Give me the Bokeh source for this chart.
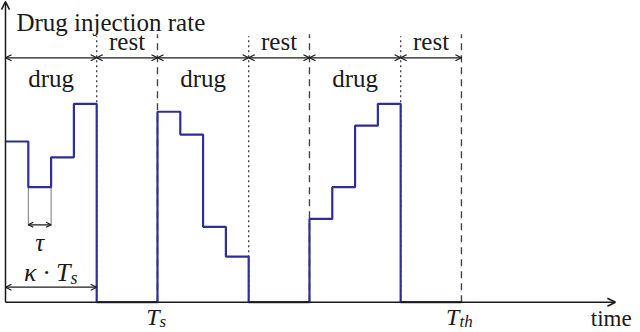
import numpy as np
from bokeh.plotting import figure
from bokeh.models import Range1d, Arrow, OpenHead, ColumnDataSource
from bokeh.core.properties import value
from bokeh.embed import file_html
from bokeh.resources import INLINE

# ---- schedule structure (in units of T_s) ----
Ts = 1.0
kappa = 0.6
tau = 0.15
cycle_starts = [0.0, 1.0, 2.0]
T_th = 3.0

# ---- injection-rate levels (relative) ----
cycle1 = [0.81, 0.58, 0.73, 1.00]
cycle2 = [0.96, 0.845, 0.38, 0.23]
cycle3 = [0.42, 0.58, 0.89, 1.00]

phase_labels = ["drug", "rest"]
tick_positions = [1.0, 3.0]
tick_main = ["T", "T"]
tick_sub = ["s", "th"]
tick_sub_shift = [2, -2]

FONT = value("Liberation Serif")
BLUE = "#2E2E96"
INK = "#1a1a1a"

p = figure(width=640, height=332,
           x_range=Range1d(-0.0329, 4.178), y_range=Range1d(-0.1527, 1.5207),
           output_backend="svg", toolbar_location=None,
           x_axis_type=None, y_axis_type=None,
           min_border=0, min_border_left=0, min_border_right=0,
           min_border_top=0, min_border_bottom=0)
p.grid.visible = False
p.outline_line_color = None
p.background_fill_color = "white"

# ---- vertical phase boundaries ----
drug_end = [s + kappa for s in cycle_starts]
cycle_end = [s + Ts for s in cycle_starts]
p.segment(x0=drug_end, y0=[0] * 3, x1=drug_end, y1=[1.34] * 3,
          line_color="#444444", line_width=1.4, line_dash="2 3")
p.segment(x0=cycle_end, y0=[0] * 3, x1=cycle_end, y1=[1.35] * 3,
          line_color="#444444", line_width=1.4, line_dash="7 5")

# ---- tau annotation (thin guides) ----
p.segment(x0=[tau, 2 * tau], y0=[cycle1[1]] * 2, x1=[tau, 2 * tau], y1=[0.385] * 2,
          line_color="#777777", line_width=1)

# ---- injection rate step curve ----
xs, ys = [], []
for start, vals in zip(cycle_starts, [cycle1, cycle2, cycle3]):
    for i, v in enumerate(vals):
        xs += [start + i * tau, start + (i + 1) * tau]
        ys += [v, v]
    xs += [start + kappa, start + Ts]
    ys += [0, 0]
p.line(xs, ys, line_color=BLUE, line_width=2.2)

# ---- axes drawn as arrows ----
p.add_layout(Arrow(x_start=0, y_start=0, x_end=4.013, y_end=0,
                   line_color=INK, line_width=1.5,
                   end=OpenHead(size=8, line_color=INK, line_width=1.5)))
p.add_layout(Arrow(x_start=0, y_start=0, x_end=0, y_end=1.515,
                   line_color=INK, line_width=1.5,
                   end=OpenHead(size=8, line_color=INK, line_width=1.5)))

# ---- dimension arrows for drug / rest phases ----
dim = ColumnDataSource(dict(
    x0=cycle_starts + drug_end,
    x1=drug_end + cycle_end,
    y=[1.232] * 6))
p.add_layout(Arrow(x_start="x0", y_start="y", x_end="x1", y_end="y", source=dim,
                   line_color=INK, line_width=1.3,
                   start=OpenHead(size=6, line_color=INK, line_width=1.3),
                   end=OpenHead(size=6, line_color=INK, line_width=1.3)))

# tau and kappa*Ts arrows
p.add_layout(Arrow(x_start=tau, y_start=0.39, x_end=2 * tau, y_end=0.39,
                   line_color=INK, line_width=1.2,
                   start=OpenHead(size=5, line_color=INK, line_width=1.2),
                   end=OpenHead(size=5, line_color=INK, line_width=1.2)))
p.add_layout(Arrow(x_start=0, y_start=0.0756, x_end=kappa, y_end=0.0756,
                   line_color=INK, line_width=1.2,
                   start=OpenHead(size=6, line_color=INK, line_width=1.2),
                   end=OpenHead(size=6, line_color=INK, line_width=1.2)))

# ---- phase labels ----
p.text(x=[s + kappa / 2 for s in cycle_starts], y=[1.13] * 3, text=[phase_labels[0]] * 3,
       text_font=FONT, text_font_size="25px", text_color=INK,
       text_align="center", text_baseline="middle")
p.text(x=[s + (kappa + Ts) / 2 for s in cycle_starts], y=[1.315] * 3, text=[phase_labels[1]] * 3,
       text_font=FONT, text_font_size="25px", text_color=INK,
       text_align="center", text_baseline="middle")

# ---- title & axis label ----
p.text(x=[0.072], y=[1.412], text=["Drug injection rate"],
       text_font=FONT, text_font_size="25px", text_color=INK,
       text_align="left", text_baseline="alphabetic")
p.text(x=[4.12], y=[-0.083], text=["time"],
       text_font=FONT, text_font_size="23px", text_color=INK,
       text_align="right", text_baseline="alphabetic")

# ---- tick labels T_s, T_th ----
p.text(x=tick_positions, y=[-0.074] * 2, text=tick_main, x_offset=tick_sub_shift,
       text_font=FONT, text_font_size="24px", text_font_style="italic", text_color=INK,
       text_align="right", text_baseline="middle")
p.text(x=tick_positions, y=[-0.074] * 2, text=tick_sub, x_offset=tick_sub_shift, y_offset=[5, 5],
       text_font=FONT, text_font_size="17px", text_font_style="italic", text_color=INK,
       text_align="left", text_baseline="middle")

# ---- tau and kappa*Ts labels ----
p.text(x=[1.5 * tau], y=[0.30], text=["τ"],
       text_font=FONT, text_font_size="25px", text_font_style="italic", text_color=INK,
       text_align="center", text_baseline="middle")
p.text(x=[0.428], y=[0.151], text=["κ · T"],
       text_font=FONT, text_font_size="26px", text_font_style="italic", text_color=INK,
       text_align="right", text_baseline="middle")
p.text(x=[0.428], y=[0.151], text=["s"], y_offset=[6],
       text_font=FONT, text_font_size="18px", text_font_style="italic", text_color=INK,
       text_align="left", text_baseline="middle")

open("out.html", "w").write(file_html(p, INLINE))
